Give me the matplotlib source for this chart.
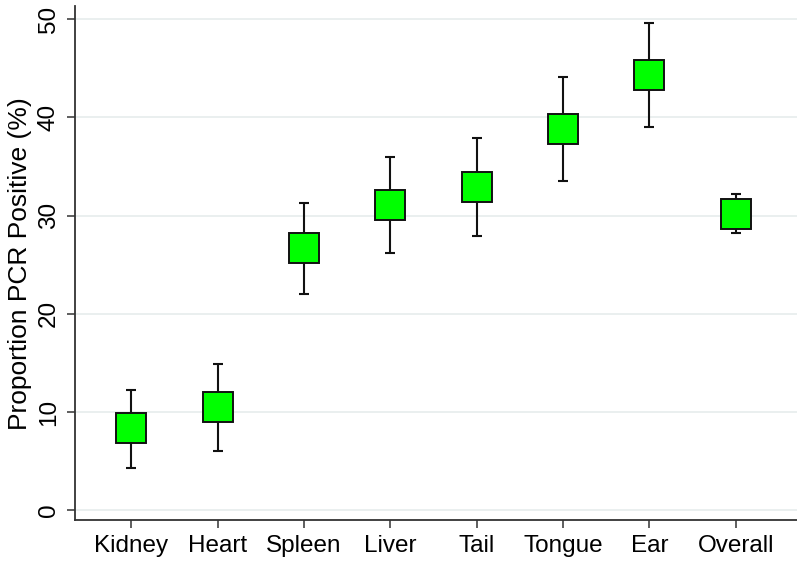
import numpy as np
import matplotlib.pyplot as plt

plt.rcParams['font.family'] = ['Liberation Sans', 'DejaVu Sans']

# tissue, estimate and 95% CI
tissues = ['Kidney', 'Heart', 'Spleen', 'Liver', 'Tail', 'Tongue', 'Ear', 'Overall']
est = [8.4, 10.5, 26.7, 31.1, 32.9, 38.8, 44.3, 30.2]
lower = [4.3, 6.0, 22.0, 26.2, 27.9, 33.5, 39.0, 28.2]
upper = [12.3, 14.9, 31.3, 36.0, 37.9, 44.1, 49.6, 32.2]

x = np.arange(1, len(tissues) + 1)
est = np.array(est)
err = [est - np.array(lower), np.array(upper) - est]

fig = plt.figure(figsize=(7.97, 5.68), dpi=100)
ax = fig.add_axes([0.094, 0.0845, 0.906, 0.9045])

ax.errorbar(x, est, yerr=err, fmt='none', ecolor='#111111', elinewidth=1.5,
            capsize=3.8, capthick=1.5, zorder=2)
ax.plot(x, est, 's', ms=21, mfc='#00ff00', mec='#111111', mew=1.4,
        ls='none', zorder=3)

ax.set_xlim(0.347, 8.71)
ax.set_ylim(-0.97, 51.3)
ax.set_yticks([0, 10, 20, 30, 40, 50])
ax.set_xticks(x)
ax.set_xticklabels(tissues)
for t in ax.get_yticklabels():
    t.set_rotation(90)
    t.set_va('center')

ax.yaxis.grid(True, color='#e8eeee', lw=1.3, zorder=0)
ax.set_axisbelow(True)

ax.spines['top'].set_visible(False)
ax.spines['right'].set_visible(False)
for s in ['left', 'bottom']:
    ax.spines[s].set_color('#333333')
    ax.spines[s].set_linewidth(1.3)
ax.tick_params(axis='both', length=6, width=1.1, color='#333333',
               labelsize=17.5, pad=5)

ax.set_ylabel('Proportion PCR Positive (%)', fontsize=19, labelpad=4)

fig.savefig('out.png', dpi=100)
